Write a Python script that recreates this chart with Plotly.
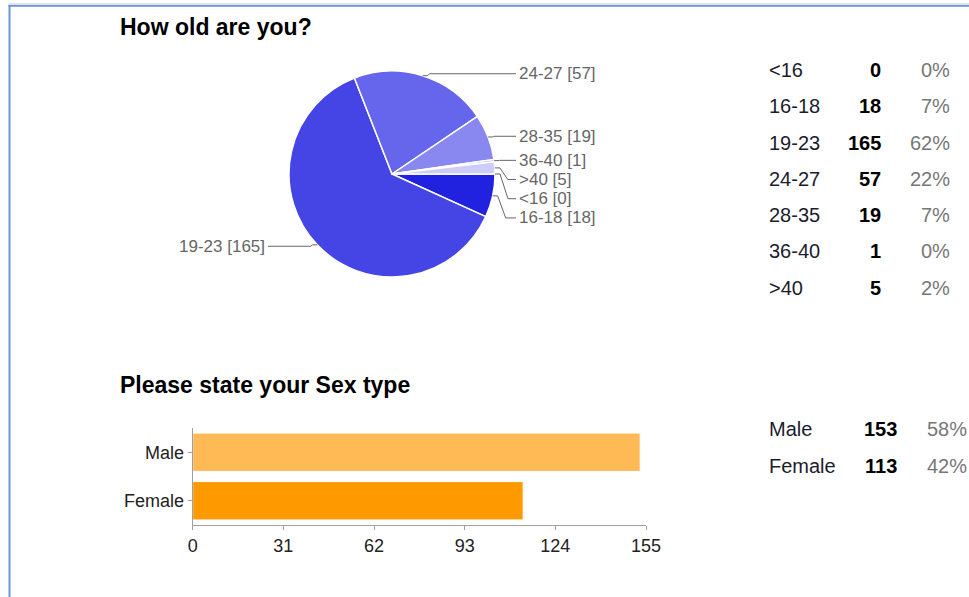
import math
import plotly.graph_objects as go

W, H = 969, 597

# ---------------- data ----------------
age_labels = ["<16", "16-18", "19-23", "24-27", "28-35", "36-40", ">40"]
age_counts = [0, 18, 165, 57, 19, 1, 5]
age_colors = ["#1010d8", "#2121e0", "#4545e6", "#6666ec", "#8888f0", "#aaaaf4", "#ccccf8"]

sex_labels = ["Male", "Female"]
sex_counts = [153, 113]
sex_colors = ["#ffb955", "#ff9900"]

x_ticks = [0, 31, 62, 93, 124, 155]

title_age = "How old are you?"
title_sex = "Please state your Sex type"

FONT = "Liberation Sans, Arial, sans-serif"


def px(x):
    return x / W


def py(y):
    return 1 - y / H


def note(text, x, y, anchor, size, color):
    return dict(text=text, x=px(x), y=py(y), xref="paper", yref="paper",
                xanchor=anchor, yanchor="middle", showarrow=False,
                borderpad=0, borderwidth=0,
                font=dict(family=FONT, size=size, color=color))


fig = go.Figure()

# ---------------- pie ----------------
cx, cy, R = 392, 174, 103
fig.add_trace(go.Pie(
    values=age_counts, labels=age_labels, sort=False, direction="clockwise",
    rotation=90, textinfo="none", showlegend=False, automargin=False,
    marker=dict(colors=age_colors, line=dict(color="white", width=1.5)),
    domain=dict(x=[px(cx - R), px(cx + R)], y=[py(cy + R), py(cy - R)]),
))

# ---------------- bar ----------------
fig.add_trace(go.Bar(
    x=sex_counts, y=sex_labels, orientation="h", width=0.79,
    marker=dict(color=sex_colors, line=dict(color="white", width=1)),
    showlegend=False, xaxis="x", yaxis="y",
))

annotations = []
shapes = []

# pie labels + leader lines computed from slice angles
total = sum(age_counts)
cum = 0
right, left = [], []
for lab, v in zip(age_labels, age_counts):
    a0 = cum / total * 2 * math.pi
    cum += v
    a1 = cum / total * 2 * math.pi
    mid = (a0 + a1) / 2
    p = (cx + R * math.cos(mid), cy + R * math.sin(mid))
    ny = cy + (R + 2) * math.sin(mid)
    item = dict(text=f"{lab} [{v}]", p=p, y=ny)
    (right if math.cos(mid) >= -1e-9 else left).append(item)

for group in (right, left):
    group.sort(key=lambda d: d["y"])
    for i in range(1, len(group)):
        if group[i]["y"] < group[i - 1]["y"] + 19.2:
            group[i]["y"] = group[i - 1]["y"] + 19.2

for group, sgn, endx, tx, anch in ((right, 1, 516, 519, "left"), (left, -1, 268, 265, "right")):
    for it in group:
        x0, y0 = it["p"]
        ly = it["y"]
        dy = abs(ly - y0)
        x1 = x0 + sgn * 5
        x2 = x1 + sgn * min(dy, 8)
        path = (f"M {px(x0)},{py(y0)} L {px(x1)},{py(y0)} L {px(x2)},{py(ly)} "
                f"L {px(endx)},{py(ly)}")
        shapes.append(dict(type="path", path=path, xref="paper", yref="paper",
                           line=dict(color="#666666", width=1)))
        annotations.append(note(it["text"], tx, ly, anch, 17, "#666666"))

# titles
for t, y in ((title_age, 27), (title_sex, 385)):
    annotations.append(note(f"<b>{t}</b>", 120, y, "left", 23, "#000000"))


# summary tables
def table(labels, counts, y0, step, cnt_x, pct_x):
    tot = sum(counts)
    for i, (lab, c) in enumerate(zip(labels, counts)):
        y = y0 + i * step
        annotations.append(note(lab, 769, y, "left", 20, "#1c1c2c"))
        annotations.append(note(f"<b>{c}</b>", cnt_x, y, "right", 20, "#000000"))
        annotations.append(note(f"{round(100 * c / tot)}%", pct_x, y, "right", 20, "#777777"))


table(age_labels, age_counts, 70, 36.3, 881, 950)
table(sex_labels, sex_counts, 429, 36.5, 897, 967)

# frame lines
shapes.append(dict(type="line", xref="paper", yref="paper", x0=px(9), x1=1, y0=py(3.5), y1=py(3.5),
                   line=dict(color="#e4e4e4", width=1)))
shapes.append(dict(type="line", xref="paper", yref="paper", x0=px(8.5), x1=1, y0=py(5.8), y1=py(5.8),
                   line=dict(color="#6a95d4", width=2)))
shapes.append(dict(type="line", xref="paper", yref="paper", x0=px(9.5), x1=px(9.5), y0=0, y1=py(5),
                   line=dict(color="#6a95d4", width=2)))

fig.update_layout(
    template="none",
    width=W, height=H, margin=dict(l=0, r=0, t=0, b=0, pad=0, autoexpand=False),
    paper_bgcolor="white", plot_bgcolor="white",
    font=dict(family=FONT, color="#222222"),
    annotations=annotations, shapes=shapes,
    xaxis=dict(domain=[px(192.7), px(646)], range=[0, 155], tickvals=x_ticks, automargin=False,
               showline=True, linecolor="#a0a0a0", linewidth=1, ticks="outside", ticklen=4,
               tickcolor="#a0a0a0", showgrid=False, zeroline=False, anchor="y",
               tickfont=dict(family=FONT, size=18, color="#222222"), fixedrange=True),
    yaxis=dict(domain=[py(525), py(428)], autorange="reversed", automargin=False,
               showline=True, linecolor="#a0a0a0", linewidth=1, ticks="outside", ticklen=4,
               tickcolor="#a0a0a0", showgrid=False, zeroline=False, anchor="x",
               tickfont=dict(family=FONT, size=18, color="#222222"), fixedrange=True),
)

fig.write_html(
    "out.html",
    config={"displayModeBar": False},
    post_script=(
        "document.body.style.margin='0';"
        "document.body.style.overflow='hidden';"
        "document.documentElement.style.overflow='hidden';"
    ),
)
